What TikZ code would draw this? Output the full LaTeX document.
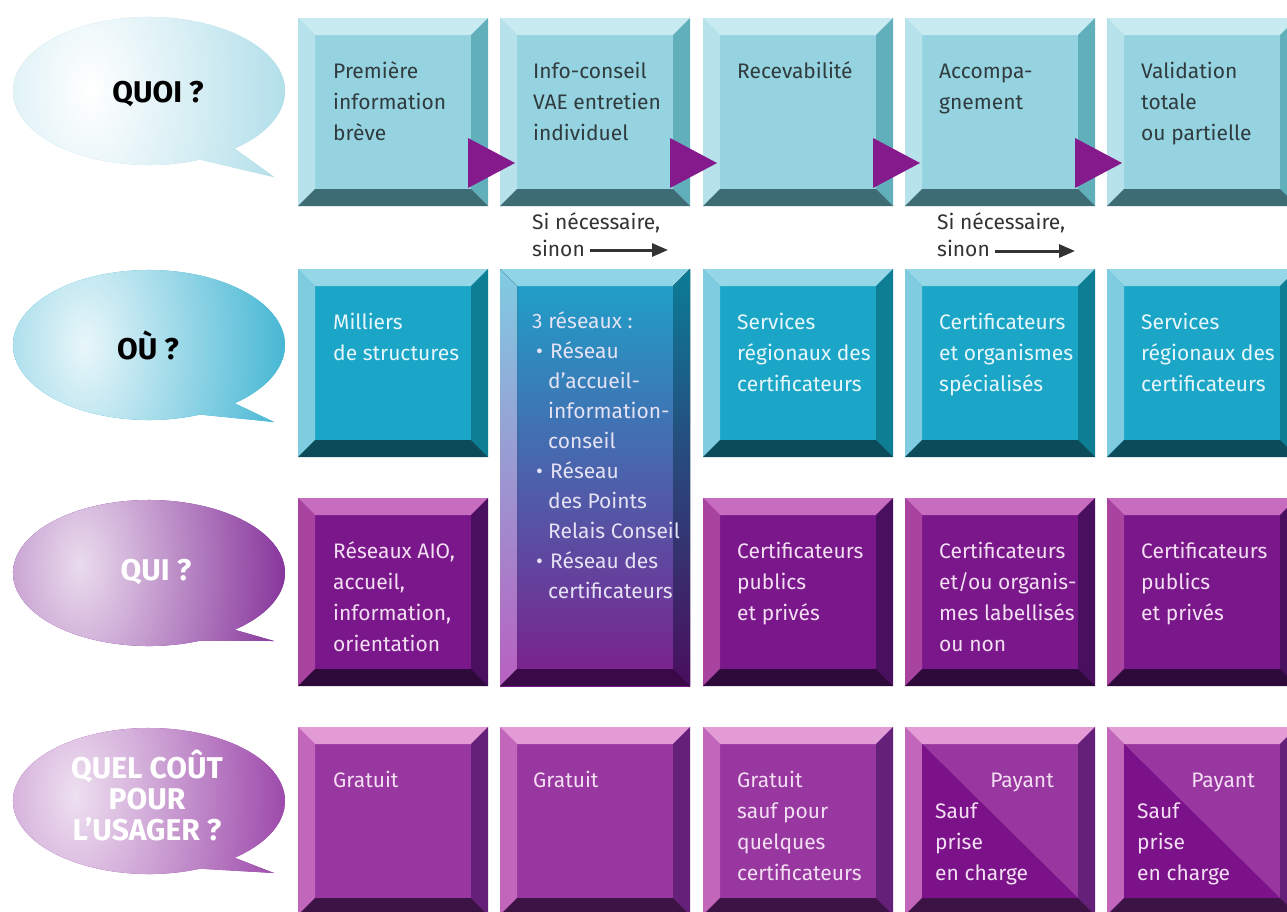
\documentclass[tikz,border=0pt]{standalone}
\usepackage{fontspec}
\setmainfont{Fira Sans}
\usetikzlibrary{calc,arrows.meta}
% row colours
\definecolor{ronface}{HTML}{95D3E0}\definecolor{rontop}{HTML}{C8EAF1}\definecolor{ronleft}{HTML}{B7E2EB}\definecolor{ronright}{HTML}{62AFBC}\definecolor{ronbot}{HTML}{3E6C74}
\definecolor{rtwface}{HTML}{1BA6C8}\definecolor{rtwtop}{HTML}{96D7E7}\definecolor{rtwleft}{HTML}{7FCCE0}\definecolor{rtwright}{HTML}{0E7E95}\definecolor{rtwbot}{HTML}{0C4C5A}
\definecolor{rthface}{HTML}{7A178A}\definecolor{rthtop}{HTML}{C86CC0}\definecolor{rthleft}{HTML}{A8439F}\definecolor{rthright}{HTML}{4A1060}\definecolor{rthbot}{HTML}{2D0A3A}
\definecolor{rfoface}{HTML}{97379F}\definecolor{rfotop}{HTML}{E39BD6}\definecolor{rfoleft}{HTML}{C266BB}\definecolor{rforight}{HTML}{65207A}\definecolor{rfobot}{HTML}{3B1445}
\definecolor{rfodiag}{HTML}{7C128A}
\definecolor{mtop}{HTML}{1CA4CA}\definecolor{mmid}{HTML}{3F63B4}\definecolor{mbot}{HTML}{7D1E8C}
\definecolor{mbtop}{HTML}{90D4E8}\definecolor{mbleftA}{HTML}{7FCCE2}\definecolor{mbleftB}{HTML}{B860C0}
\definecolor{mbrightA}{HTML}{0B7C96}\definecolor{mbrightB}{HTML}{4A0E5E}\definecolor{mbbot}{HTML}{3A0A48}
\definecolor{txtone}{HTML}{2F3B3E}\definecolor{txttwo}{HTML}{E6F6FA}\definecolor{txtthree}{HTML}{F3DEF3}\definecolor{txtm}{HTML}{E4E2F4}
\definecolor{arrowpurple}{HTML}{851A8C}\definecolor{sgrey}{HTML}{333333}
\definecolor{bubA}{HTML}{9DD6E4}\definecolor{bubB}{HTML}{1FA8CB}\definecolor{bubC}{HTML}{72128A}\definecolor{bubD}{HTML}{8E2E9E}
\newcommand\tb[1]{\parbox[t]{170pt}{\raggedright #1}}
\newcommand\bevel[5]{%
 \fill[#2] (#1.north west) -- (#1.north east) -- ($(#1.north east)+(-17,17)$) -- ($(#1.north west)+(17,17)$) -- cycle;
 \fill[#3] (#1.north west) -- ($(#1.north west)+(17,17)$) -- ($(#1.south west)+(17,-17)$) -- (#1.south west) -- cycle;
 \fill[#4] (#1.north east) -- (#1.south east) -- ($(#1.south east)+(-17,-17)$) -- ($(#1.north east)+(-17,17)$) -- cycle;
 \fill[#5] (#1.south west) -- (#1.south east) -- ($(#1.south east)+(-17,-17)$) -- ($(#1.south west)+(17,-17)$) -- cycle;}
\newcommand\bbox[5]{%
 \node[box, minimum height=#4pt, fill=#5face] (#1) at (#2,#3) {};
 \bevel{#1}{#5top}{#5left}{#5right}{#5bot}}
\newcommand\bubble[7]{%
 \fill[#4, path picture={\shade[inner color=#7, outer color=#4] (#5,#6) ellipse (250 and 400);}]
  ($(149,#1)+(68:136 and #2)$) arc[start angle=68, end angle=411, x radius=136, y radius=#2] -- (274,#1+#3) -- cycle;}
\begin{document}
\begin{tikzpicture}[x=1pt,y=-1pt,
  box/.style={rectangle, inner sep=0pt, outer sep=0pt, minimum width=190pt, anchor=north west},
  btxt/.style={anchor=base west, inner sep=0pt, font=\fontsize{21}{31}\selectfont},
  bubtxt/.style={inner sep=0pt, align=center, font=\fontsize{30}{31}\selectfont\bfseries},
  tri/.style={fill=arrowpurple},
  sarrow/.style={draw=sgrey, line width=3pt, -{Triangle[length=16pt,width=13pt]}}]
\useasboundingbox (0,0) rectangle (1287,911);
\fill[white] (0,0) rectangle (1287,911);
\clip (0,0) rectangle (1287,911);

% speech bubbles
\bubble{91}{74}{86}{bubA}{90}{90}{white}
\bubble{345}{75}{77}{bubB}{85}{345}{white!90!bubB}
\bubble{573}{73}{68}{bubC}{80}{565}{white!85!bubC}
\bubble{801}{73}{72}{bubD}{75}{795}{white!85!bubD}
\node[bubtxt, text=black] (bq) at (158,94) {QUOI ?};
\node[bubtxt, text=black] (bo) at (148,345) {OÙ ?};
\node[bubtxt, text=white] (bw) at (156,572) {QUI ?};
\node[bubtxt, text=white] (bc) at (147,796) {QUEL COÛT\\POUR\\L'USAGER ?};

% row 1
\bbox{b11}{298}{18}{188}{ron}
\bbox{b12}{500}{18}{188}{ron}
\bbox{b13}{703}{18}{188}{ron}
\bbox{b14}{905}{18}{188}{ron}
\bbox{b15}{1107}{18}{188}{ron}
% row 2
\bbox{b21}{298}{269}{188}{rtw}
\node[box, minimum height=417pt, top color=mtop, middle color=mmid, bottom color=mbot] (b22) at (500,269) {};
\bevel{b22}{fill=mbtop}{top color=mbleftA, bottom color=mbleftB}{top color=mbrightA, bottom color=mbrightB}{fill=mbbot}
\bbox{b23}{703}{269}{188}{rtw}
\bbox{b24}{905}{269}{188}{rtw}
\bbox{b25}{1107}{269}{188}{rtw}
% row 3
\bbox{b31}{298}{498}{188}{rth}
\bbox{b33}{703}{498}{188}{rth}
\bbox{b34}{905}{498}{188}{rth}
\bbox{b35}{1107}{498}{188}{rth}
% row 4
\bbox{b41}{298}{727}{188}{rfo}
\bbox{b42}{500}{727}{188}{rfo}
\bbox{b43}{703}{727}{188}{rfo}
\bbox{b44}{905}{727}{188}{rfo}
\bbox{b45}{1107}{727}{188}{rfo}
\fill[rfodiag] ($(b44.north west)+(17,17)$) -- ($(b44.south east)+(-17,-17)$) -- ($(b44.south west)+(17,-17)$) -- cycle;
\fill[rfodiag] ($(b45.north west)+(17,17)$) -- ($(b45.south east)+(-17,-17)$) -- ($(b45.south west)+(17,-17)$) -- cycle;

% purple arrows of row 1
\fill[tri] ($(b11.south east)+(-20,-18)$) -- ++(0,-50) -- ++(47,25) -- cycle;
\fill[tri] ($(b12.south east)+(-20,-18)$) -- ++(0,-50) -- ++(47,25) -- cycle;
\fill[tri] ($(b13.south east)+(-20,-18)$) -- ++(0,-50) -- ++(47,25) -- cycle;
\fill[tri] ($(b14.south east)+(-20,-18)$) -- ++(0,-50) -- ++(47,25) -- cycle;

% texts row 1
\node[btxt, text=txtone] (t11) at ($(b11.north west)+(35,60)$) {\tb{Première\\information\\brève}};
\node[btxt, text=txtone] (t12) at ($(b12.north west)+(33,60)$) {\tb{Info-conseil\\VAE entretien\\individuel}};
\node[btxt, text=txtone] (t13) at ($(b13.north west)+(34,60)$) {\tb{Recevabilité}};
\node[btxt, text=txtone] (t14) at ($(b14.north west)+(34,60)$) {\tb{Accompa-\\gnement}};
\node[btxt, text=txtone] (t15) at ($(b15.north west)+(34,60)$) {\tb{Validation\\totale\\ou partielle}};

% "si nécessaire" notes
\node[btxt, text=sgrey, font=\fontsize{21}{27}\selectfont] (n2) at (532,229) {\tb{Si nécessaire,\\sinon}};
\coordinate (n2s) at (590,250);
\coordinate (n2e) at (668,250);
\draw[sarrow] (n2s) -- (n2e);
\node[btxt, text=sgrey, font=\fontsize{21}{27}\selectfont] (n4) at (937,229) {\tb{Si nécessaire,\\sinon}};
\coordinate (n4s) at (995,251);
\coordinate (n4e) at (1075,251);
\draw[sarrow] (n4s) -- (n4e);

% texts row 2
\node[btxt, text=txttwo] (t21) at ($(b21.north west)+(35,60)$) {\tb{Milliers\\de structures}};
\node[btxt, text=txtm, font=\fontsize{21}{30}\selectfont] (t22) at ($(b22.north west)+(32,59)$) {\tb{3 réseaux :\\
\hspace*{4pt}\makebox[14pt][l]{•}Réseau\\
\hspace*{16pt}d'accueil-\\
\hspace*{16pt}information-\\
\hspace*{16pt}conseil\\
\hspace*{4pt}\makebox[14pt][l]{•}Réseau\\
\hspace*{16pt}des Points\\
\hspace*{16pt}Relais Conseil\\
\hspace*{4pt}\makebox[14pt][l]{•}Réseau des\\
\hspace*{16pt}certificateurs}};
\node[btxt, text=txttwo] (t23) at ($(b23.north west)+(34,60)$) {\tb{Services\\régionaux des\\certificateurs}};
\node[btxt, text=txttwo] (t24) at ($(b24.north west)+(34,60)$) {\tb{Certificateurs\\et organismes\\spécialisés}};
\node[btxt, text=txttwo] (t25) at ($(b25.north west)+(34,60)$) {\tb{Services\\régionaux des\\certificateurs}};

% texts row 3
\node[btxt, text=txtthree] (t31) at ($(b31.north west)+(35,60)$) {\tb{Réseaux AIO,\\accueil,\\information,\\orientation}};
\node[btxt, text=txtthree] (t33) at ($(b33.north west)+(34,60)$) {\tb{Certificateurs\\publics\\et privés}};
\node[btxt, text=txtthree] (t34) at ($(b34.north west)+(34,60)$) {\tb{Certificateurs\\et/ou organis-\\mes labellisés\\ou non}};
\node[btxt, text=txtthree] (t35) at ($(b35.north west)+(34,60)$) {\tb{Certificateurs\\publics\\et privés}};

% texts row 4
\node[btxt, text=txtthree] (t41) at ($(b41.north west)+(35,60)$) {\tb{Gratuit}};
\node[btxt, text=txtthree] (t42) at ($(b42.north west)+(33,60)$) {\tb{Gratuit}};
\node[btxt, text=txtthree] (t43) at ($(b43.north west)+(34,60)$) {\tb{Gratuit\\sauf pour\\quelques\\certificateurs}};
\node[btxt, anchor=base east, text=txtthree] (p44) at ($(b44.north east)+(-41,60)$) {Payant};
\node[btxt, text=txtthree] (t44) at ($(b44.north west)+(30,91)$) {\tb{Sauf\\prise\\en charge}};
\node[btxt, anchor=base east, text=txtthree] (p45) at ($(b45.north east)+(-42,60)$) {Payant};
\node[btxt, text=txtthree] (t45) at ($(b45.north west)+(30,91)$) {\tb{Sauf\\prise\\en charge}};
\end{tikzpicture}
\end{document}
